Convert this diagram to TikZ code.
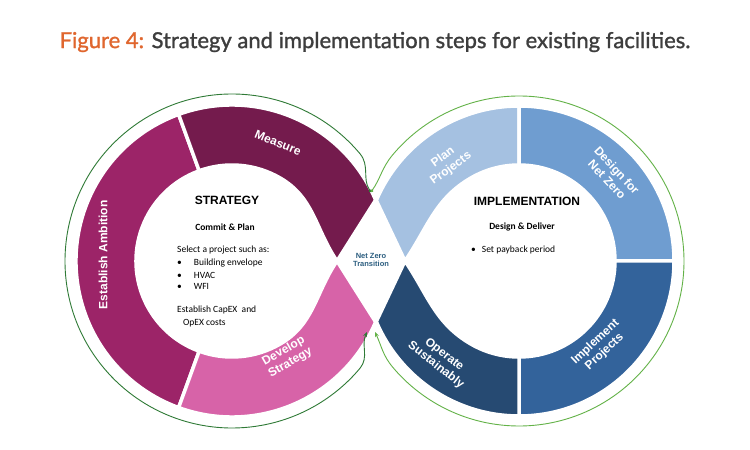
\documentclass[tikz,border=0pt]{standalone}
\usepackage{fontspec}
\setmainfont{Carlito}
\newfontfamily\labelfont{Liberation Sans}
\newfontfamily\titlefont{Lato}[FakeBold=1.2]
\usetikzlibrary{arrows.meta,calc}
\definecolor{ambition}{HTML}{9C2468}
\definecolor{measure}{HTML}{741B4D}
\definecolor{develop}{HTML}{D763A8}
\definecolor{planproj}{HTML}{A5C1E1}
\definecolor{design}{HTML}{6F9DD0}
\definecolor{implement}{HTML}{33639B}
\definecolor{operate}{HTML}{264A72}
\definecolor{loopgreenA}{HTML}{2F7A36}
\definecolor{loopgreenB}{HTML}{63B247}
\definecolor{figorange}{HTML}{E0662E}
\definecolor{figgray}{HTML}{3D3D3D}
\definecolor{nzblue}{HTML}{2C5E80}
\newcommand{\bandsize}{12}
\tikzstyle{segment}=[draw=white, line width=3.5pt, line join=round]
\tikzstyle{seglabel}=[text=white, font=\labelfont\bfseries\fontsize{\bandsize}{13.5}\selectfont, align=center, inner sep=0]
\tikzstyle{heading}=[font=\labelfont\bfseries\fontsize{12}{14}\selectfont, inner sep=0]
\tikzstyle{subheading}=[font=\bfseries\fontsize{9.5}{11}\selectfont, inner sep=0]
\tikzstyle{bodytext}=[font=\fontsize{9.5}{11}\selectfont, inner sep=0, anchor=west]
\tikzstyle{greenloop}=[line width=0.9pt, {Circle[length=3pt]}-{Stealth[length=5pt,width=4pt]}]
\begin{document}
\begin{tikzpicture}[x=1pt, y=1pt]
    \useasboundingbox[fill=white] (0,0) rectangle (750,450);
    \node[font=\titlefont\fontsize{22}{24}\selectfont, text=figgray] (title) at (375,408)
        {\textcolor{figorange}{Figure 4:} Strategy and implementation steps for existing facilities.};
    \coordinate (cL) at (232,189);
    \coordinate (cR) at (519,189);

    % strategy loop
    \begin{scope}[shift={(cL)}]
        \filldraw[segment, fill=ambition] (110:156) arc[start angle=110, end angle=250, radius=156]
            -- (250:96) arc[start angle=250, end angle=110, radius=96] -- cycle;
        \filldraw[segment, fill=measure] (110:156) arc[start angle=110, end angle=23, radius=156]
            -- (105,0) to[out=124, in=-30] (60:96) arc[start angle=60, end angle=110, radius=96] -- cycle;
        \filldraw[segment, fill=develop] (-110:156) arc[start angle=-110, end angle=-23, radius=156]
            -- (105,0) to[out=-124, in=30] (-60:96) arc[start angle=-60, end angle=-110, radius=96] -- cycle;
    \end{scope}

    % implementation loop
    \begin{scope}[shift={(cR)}]
        \filldraw[segment, fill=planproj] (90:155) arc[start angle=90, end angle=157, radius=155]
            -- (-114,0) to[out=56, in=-150] (120:96) arc[start angle=120, end angle=90, radius=96] -- cycle;
        \filldraw[segment, fill=design] (0:155) arc[start angle=0, end angle=90, radius=155]
            -- (90:96) arc[start angle=90, end angle=0, radius=96] -- cycle;
        \filldraw[segment, fill=implement] (-90:155) arc[start angle=-90, end angle=0, radius=155]
            -- (0:96) arc[start angle=0, end angle=-90, radius=96] -- cycle;
        \filldraw[segment, fill=operate] (-90:155) arc[start angle=-90, end angle=-157, radius=155]
            -- (-114,0) to[out=-56, in=150] (-120:96) arc[start angle=-120, end angle=-90, radius=96] -- cycle;
    \end{scope}

    \coordinate (topdot) at (371,258);
    \coordinate (botL) at (367,118);
    \coordinate (botR) at (375,118);
    \draw[greenloop, loopgreenA] (topdot) to[out=125, in=-50] ($(cL)+(40:167)$)
        arc[start angle=40, end angle=320, radius=167] to[out=50, in=-115] (botL);
    \draw[greenloop, loopgreenB] (topdot) to[out=55, in=-130] ($(cR)+(140:165)$)
        arc[start angle=140, end angle=-140, radius=165] to[out=130, in=-65] (botR);

    \node[seglabel, rotate=90] (ambition) at (103,195) {Establish Ambition};
    \node[seglabel, rotate=-22] (meas) at (278,307) {Measure};
    \node[seglabel, rotate=30] (dev) at (287,93) {Develop\\Strategy};
    \node[seglabel, rotate=36] (plan) at (447,287) {Plan\\Projects};
    \node[seglabel, rotate=-47] (des) at (612,275) {Design for\\Net Zero};
    \node[seglabel, rotate=43] (imp) at (600,103) {Implement\\Projects};
    \node[seglabel, rotate=-38] (op) at (440,90) {Operate\\Sustainably};

    \node[heading] (strat) at (227,250) {STRATEGY};
    \node[subheading] (commit) at (225,223) {Commit \& Plan};
    \node[bodytext] (select) at (177,200) {Select a project such as:};
    \node[bodytext] (b1) at (177,187) {\textbullet\hspace{12pt}Building envelope};
    \node[bodytext] (b2) at (177,175) {\textbullet\hspace{12pt}HVAC};
    \node[bodytext] (b3) at (177,164) {\textbullet\hspace{12pt}WFI};
    \node[bodytext] (capex) at (177,140) {Establish CapEX\ \ and};
    \node[bodytext] (opex) at (183,127) {OpEX costs};

    \node[heading] (impl) at (527,249) {IMPLEMENTATION};
    \node[subheading] (deliver) at (522,223) {Design \& Deliver};
    \node[bodytext] (payback) at (471,200) {\textbullet\hspace{6pt}Set payback period};

    \node[font=\labelfont\bfseries\fontsize{7.5}{8.5}\selectfont, text=nzblue, align=center, inner sep=0] (nzt) at (371,190) {Net Zero\\Transition};
\end{tikzpicture}
\end{document}
